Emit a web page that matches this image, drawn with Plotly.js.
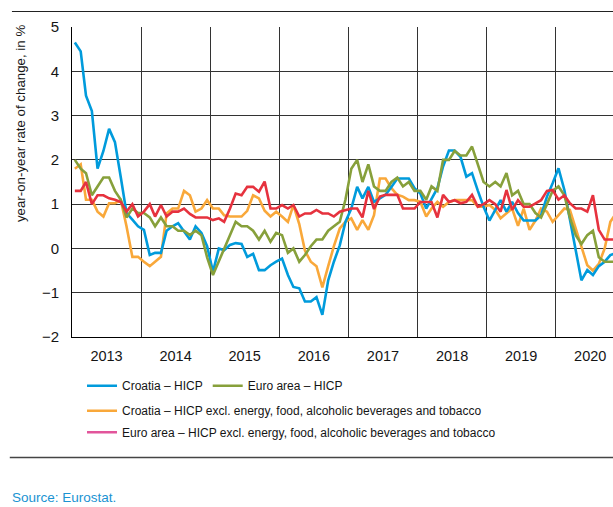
<!DOCTYPE html>
<html>
<head>
<meta charset="utf-8">
<script src="https://cdn.plot.ly/plotly-3.0.1.min.js"></script>
<style>
html,body{margin:0;padding:0;background:#fff;overflow:hidden}
#chart{width:613px;height:507px}
</style>
</head>
<body>
<div id="chart"></div>
<script>
// Monthly data, January 2013 onwards (year-on-year rate of change, %)
const firstYear = 2013;
const lastYear = 2020;
const yTicks = [-2, -1, 0, 1, 2, 3, 4, 5];

const seriesNames = [
  'Croatia – HICP',
  'Euro area – HICP',
  'Croatia – HICP excl. energy, food, alcoholic beverages and tobacco',
  'Euro area – HICP excl. energy, food, alcoholic beverages and tobacco'
];

const croatiaHICP = [
  4.65, 4.45, 3.45, 3.1, 1.8, 2.2, 2.7, 2.4, 1.6, 0.8, 0.65, 0.5,
  0.42, -0.15, -0.1, -0.1, 0.4, 0.5, 0.57, 0.38, 0.2, 0.5, 0.35, 0.05,
  -0.53, 0.0, -0.04, 0.08, 0.12, 0.1, -0.19, -0.12, -0.49, -0.49, -0.38, -0.3,
  -0.23, -0.6, -0.87, -0.9, -1.2, -1.2, -1.1, -1.5, -0.72, -0.3, 0.07, 0.6,
  0.9, 1.39, 1.13, 1.39, 1.05, 1.13, 1.21, 1.39, 1.58, 1.58, 1.58, 1.36,
  1.24, 0.9, 1.13, 1.36, 1.85, 2.21, 2.21, 2.07, 1.62, 1.7, 1.3, 0.94,
  0.63, 0.87, 1.09, 0.83, 1.05, 0.8, 0.63, 0.63, 0.63, 0.75, 1.17, 1.47,
  1.81, 1.32, 0.63, -0.04, -0.72, -0.49, -0.6, -0.4, -0.3, -0.15, -0.1
];

const euroHICP = [
  2.0, 1.8, 1.7, 1.2, 1.4, 1.6, 1.6, 1.3, 1.1, 0.7, 0.9, 0.8,
  0.8, 0.7, 0.5, 0.7, 0.5, 0.5, 0.4, 0.4, 0.3, 0.4, 0.3, -0.2,
  -0.6, -0.3, 0.0, 0.3, 0.6, 0.5, 0.5, 0.4, 0.2, 0.4, 0.15, 0.35,
  0.3, -0.1, 0.0, -0.3, -0.15, 0.05, 0.2, 0.2, 0.4, 0.5, 0.6, 1.1,
  1.8, 2.0, 1.5, 1.9, 1.4, 1.3, 1.3, 1.5, 1.6, 1.4, 1.5, 1.3,
  1.3, 1.1, 1.4, 1.3, 2.0, 2.0, 2.2, 2.1, 2.1, 2.3, 1.9, 1.5,
  1.4, 1.5, 1.4, 1.7, 1.2, 1.3, 1.0, 1.0, 0.8, 0.7, 1.0, 1.3,
  1.4, 1.2, 0.7, 0.3, 0.1, 0.3, 0.4, -0.2, -0.3, -0.3, -0.3
];

const croatiaCore = [
  1.8, 1.9, 1.1, 1.1, 0.83, 0.72, 1.02, 1.02, 1.09, 0.5, -0.19, -0.19,
  -0.3, -0.4, -0.3, -0.19, 0.79, 0.9, 0.9, 1.3, 1.2, 0.83, 0.9, 1.09,
  0.9, 0.9, 0.75, 0.72, 0.72, 0.72, 0.85, 1.2, 1.13, 0.85, 0.72, 0.83,
  0.72, 0.6, 0.98, 0.55, -0.05, -0.3, -0.4, -0.88, -0.4, 0.05, 0.45, 0.6,
  0.68, 0.42, 0.64, 0.42, 0.75, 1.58, 1.58, 1.36, 1.21, 1.17, 1.09, 1.09,
  1.05, 0.72, 0.9, 1.05, 0.94, 1.05, 1.09, 1.09, 1.09, 1.09, 0.94, 0.94,
  0.98, 0.87, 0.68, 0.79, 0.9, 0.51, 0.9, 0.42, 0.63, 0.9, 0.83, 0.6,
  0.75, 0.9, 0.87, 0.45, 0.0, -0.38, -0.5, -0.35, 0.0, 0.6, 0.8
];

const euroCore = [
  1.3, 1.3, 1.5, 1.0, 1.2, 1.2, 1.13, 1.1, 1.05, 0.83, 1.0, 0.72,
  0.83, 1.0, 0.72, 0.98, 0.72, 0.83, 0.83, 0.9, 0.78, 0.7, 0.7, 0.7,
  0.64, 0.68, 0.6, 0.9, 1.24, 1.2, 1.39, 1.39, 1.28, 1.51, 0.9, 0.9,
  0.98, 0.9, 0.98, 0.72, 0.79, 0.79, 0.87, 0.79, 0.79, 0.72, 0.83, 0.87,
  0.9, 0.9, 0.7, 1.3, 0.89, 1.17, 1.21, 1.21, 1.21, 0.9, 0.9, 0.9,
  1.05, 1.05, 1.05, 0.7, 1.21, 1.05, 1.09, 1.02, 1.05, 1.21, 0.94, 1.0,
  1.09, 1.0, 0.83, 1.32, 0.87, 1.09, 0.94, 0.94, 1.02, 1.09, 1.3, 1.32,
  1.1, 1.2, 1.02, 0.9, 0.9, 0.83, 1.2, 0.42, 0.2, 0.2, 0.2
];

// month categories (mid-month dates)
const months = [];
for (let y = firstYear; y <= lastYear; y++) {
  for (let m = 1; m <= 12; m++) {
    months.push(y + '-' + String(m).padStart(2, '0') + '-16');
  }
}

const FONT = "'Liberation Sans', Arial, Helvetica, sans-serif";
const colors = { blue: '#009bdc', green: '#87a03b', orange: '#f9a83a', red: '#e6323e', pink: '#e2559b' };
const LW = 2.6;
const TXT = '#151515';

function line(name, data, color, opts) {
  return Object.assign({
    type: 'scatter', mode: 'lines', name: name,
    x: months.slice(0, data.length), y: data,
    line: { color: color, width: LW },
    hoverinfo: 'skip'
  }, opts || {});
}

const traces = [
  line(seriesNames[2], croatiaCore, colors.orange, { legend: 'legend2' }),
  line(seriesNames[0], croatiaHICP, colors.blue, { legend: 'legend', legendrank: 1 }),
  line(seriesNames[1], euroHICP, colors.green, { legend: 'legend', legendrank: 2 }),
  line(seriesNames[3], euroCore, colors.red, { showlegend: false }),
  // legend entry for the euro area core series (legend colour as in the original)
  { type: 'scatter', mode: 'lines', name: seriesNames[3], x: [months[0]], y: [null],
    line: { color: colors.pink, width: LW }, legend: 'legend3', hoverinfo: 'skip' }
];

function legendBox(orientation, y) {
  return {
    orientation: orientation, x: 0.0185, xanchor: 'left', y: y, yanchor: 'top',
    bgcolor: 'rgba(0,0,0,0)', borderwidth: 0,
    font: { family: FONT, size: 12, color: TXT },
    itemwidth: 30, itemclick: false, itemdoubleclick: false
  };
}

const layout = {
  width: 613, height: 507,
  margin: { l: 72, r: 0, t: 27, b: 170, pad: 0 },
  paper_bgcolor: '#fff', plot_bgcolor: '#fff',
  showlegend: true,
  font: { family: FONT, color: TXT },
  xaxis: {
    type: 'date',
    range: ['2013-01-01', '2020-10-30'],
    tick0: '2013-01-01', dtick: 'M12',
    ticklabelmode: 'period', tickformat: '%Y',
    showgrid: true, gridcolor: '#333', gridwidth: 1,
    showline: true, linecolor: '#000', linewidth: 1,
    zeroline: false, ticks: '',
    ticklabelstandoff: 6,
    tickfont: { family: FONT, size: 14.5, color: TXT },
    fixedrange: true
  },
  yaxis: {
    range: [-2, 5], tickvals: yTicks,
    showgrid: true, gridcolor: '#333', gridwidth: 1,
    showline: true, linecolor: '#000', linewidth: 1,
    zeroline: false, ticks: '',
    ticklabelstandoff: 9,
    tickfont: { family: FONT, size: 15, color: TXT },
    fixedrange: true
  },
  legend: legendBox('h', -0.1103),
  legend2: legendBox('v', -0.191),
  legend3: legendBox('v', -0.2606),
  shapes: [
    { type: 'line', xref: 'paper', yref: 'paper', x0: -0.111, x1: 1, y0: 1.05, y1: 1.05,
      line: { color: '#222', width: 1 } },
    { type: 'line', xref: 'paper', yref: 'paper', x0: -0.115, x1: 1, y0: -0.389, y1: -0.389,
      line: { color: '#444', width: 1.5 } }
  ],
  annotations: [
    { text: 'year-on-year rate of change, in %', xref: 'paper', yref: 'paper',
      x: -0.0961, y: 0.69, xanchor: 'center', yanchor: 'middle', textangle: -90,
      showarrow: false, font: { family: FONT, size: 13.3, color: TXT } },
    { text: 'Source: Eurostat.', xref: 'paper', yref: 'paper',
      x: -0.1146, y: -0.519, xanchor: 'left', yanchor: 'middle',
      showarrow: false, font: { family: FONT, size: 13.5, color: '#1a93d2' } }
  ]
};

Plotly.newPlot('chart', traces, layout, { displayModeBar: false, staticPlot: true });
</script>
</body>
</html>
